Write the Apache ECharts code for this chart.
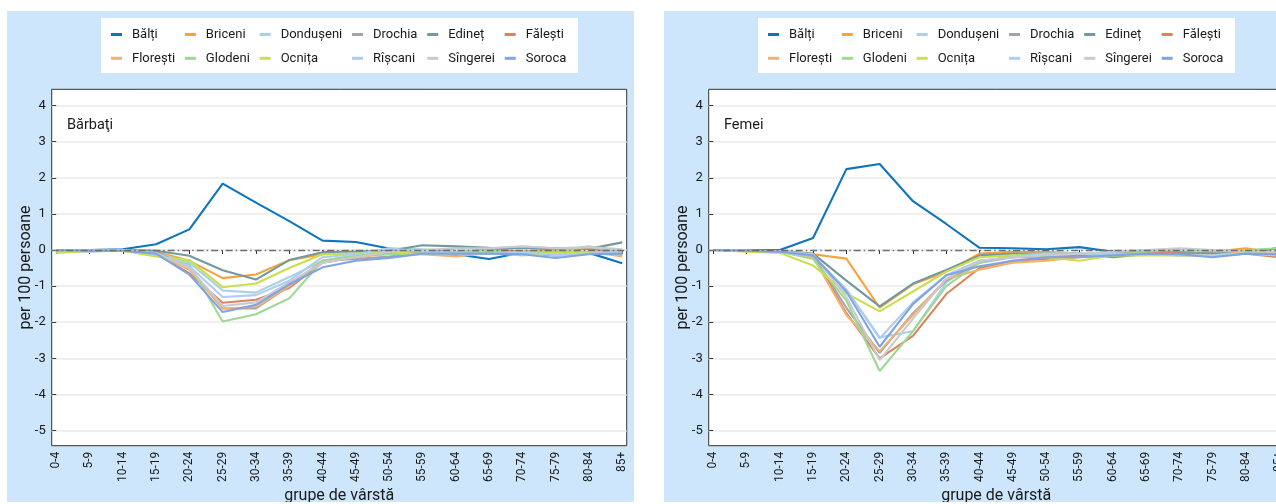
<!DOCTYPE html>
<html>
<head>
<meta charset="utf-8">
<script src="https://cdn.jsdelivr.net/npm/echarts@6/dist/echarts.min.js"></script>
<style>
  html, body { margin:0; padding:0; background:#fff; width:1276px; height:504px; overflow:hidden; position:relative; }
  .panel { position:absolute; top:11px; width:627px; height:491px; background:#cde6fb; }
</style>
</head>
<body>
<div id="p1" class="panel" style="left:7px"></div>
<div id="p2" class="panel" style="left:664px"></div>
<script>
const categories = ['0-4','5-9','10-14','15-19','20-24','25-29','30-34','35-39','40-44','45-49','50-54','55-59','60-64','65-69','70-74','75-79','80-84','85+'];
const yTicks = [-5,-4,-3,-2,-1,0,1,2,3,4];
const districts = ['Bălți','Briceni','Dondușeni','Drochia','Edineț','Fălești','Florești','Glodeni','Ocnița','Rîșcani','Sîngerei','Soroca'];
const colors = ['#0f75bc','#f9a23c','#a9d1e8','#a2a5a9','#72999e','#d9845e','#f2b26e','#9fd894','#cadf4e','#afcdee','#c7cad1','#7fa4e6'];

// Bărbaţi (men)
const menBalti     = [0, 0, 0.02, 0.16, 0.57, 1.84, 1.31, 0.80, 0.26, 0.22, 0.04, -0.08, -0.12, -0.25, -0.07, -0.15, -0.08, -0.37];
const menBriceni   = [0, -0.02, -0.02, -0.05, -0.30, -0.78, -0.68, -0.28, -0.12, -0.10, -0.05, -0.08, -0.15, -0.05, -0.05, -0.10, -0.05, -0.15];
const menDondușeni = [-0.02, -0.03, 0, -0.08, -0.35, -1.12, -1.18, -0.75, -0.30, -0.15, 0.05, 0.02, -0.05, 0, -0.10, -0.12, -0.05, -0.10];
const menDrochia   = [0, -0.02, 0, -0.05, -0.50, -1.62, -1.62, -1.00, -0.30, -0.25, -0.18, -0.10, 0.05, 0.05, 0.08, 0.05, 0.05, -0.05];
const menEdinet    = [0, 0, 0, -0.02, -0.16, -0.56, -0.82, -0.28, -0.06, -0.04, -0.02, 0.13, 0.10, 0.06, 0.05, 0.05, 0.03, 0.21];
const menFalesti   = [0, -0.02, -0.02, -0.10, -0.65, -1.46, -1.38, -1.05, -0.35, -0.20, -0.05, -0.10, -0.15, 0.05, -0.05, 0.03, 0.05, -0.12];
const menFloresti  = [0, -0.01, -0.03, -0.10, -0.55, -1.62, -1.58, -1.00, -0.30, -0.20, -0.10, -0.12, -0.18, -0.08, -0.05, -0.02, -0.05, -0.18];
const menGlodeni   = [-0.05, -0.04, -0.02, -0.15, -0.40, -1.98, -1.78, -1.34, -0.30, -0.15, -0.12, -0.10, -0.05, 0, -0.10, -0.05, 0.10, -0.10];
const menOcnita    = [-0.08, -0.03, -0.02, -0.18, -0.28, -1.03, -0.93, -0.50, -0.12, -0.10, -0.05, -0.12, -0.10, -0.08, -0.15, -0.08, -0.05, -0.10];
const menRiscani   = [0, -0.05, 0, -0.12, -0.45, -1.30, -1.25, -0.85, -0.20, -0.12, 0.05, -0.05, -0.10, -0.10, -0.05, -0.15, -0.10, -0.05];
const menSingerei  = [0, -0.02, 0, -0.08, -0.50, -1.55, -1.45, -0.90, -0.35, -0.20, -0.05, 0, 0.05, 0.05, 0.10, 0.05, 0.08, 0.02];
const menSoroca    = [0, -0.02, -0.02, -0.10, -0.68, -1.72, -1.52, -0.95, -0.48, -0.30, -0.22, -0.10, -0.10, -0.10, -0.12, -0.22, -0.12, -0.10];

// Femei (women)
const womBalti     = [0, 0, 0, 0.33, 2.24, 2.38, 1.35, 0.72, 0.06, 0.05, 0.02, 0.08, -0.05, -0.05, -0.08, -0.15, -0.10, 0.06];
const womBriceni   = [0, -0.02, -0.05, -0.12, -0.24, -1.60, -0.95, -0.60, -0.10, -0.05, -0.05, -0.10, -0.15, -0.10, -0.10, -0.05, 0.05, -0.10];
const womDondușeni = [0, -0.02, -0.05, -0.20, -1.10, -2.42, -2.25, -0.90, -0.30, -0.20, -0.15, -0.15, -0.10, -0.10, -0.10, -0.15, -0.10, -0.12];
const womDrochia   = [0, -0.02, -0.05, -0.15, -1.60, -2.85, -1.75, -0.85, -0.35, -0.20, -0.20, -0.12, -0.10, -0.05, -0.05, -0.10, -0.08, -0.10];
const womEdinet    = [0, 0, -0.02, -0.10, -0.85, -1.56, -0.93, -0.55, -0.15, -0.10, -0.10, -0.10, -0.20, -0.12, -0.10, -0.10, -0.08, -0.05];
const womFalesti   = [0, -0.02, -0.05, -0.15, -1.75, -3.00, -2.38, -1.22, -0.50, -0.30, -0.25, -0.15, -0.15, -0.05, -0.10, -0.15, -0.10, -0.20];
const womFloresti  = [0, -0.02, -0.05, -0.20, -1.80, -2.80, -1.80, -0.80, -0.55, -0.35, -0.30, -0.20, -0.15, -0.10, -0.15, -0.15, -0.05, -0.12];
const womGlodeni   = [0, -0.02, -0.05, -0.25, -1.40, -3.35, -2.25, -1.00, -0.35, -0.15, -0.10, -0.10, -0.15, -0.05, 0.02, -0.02, 0, 0.05];
const womOcnita    = [0, -0.05, -0.08, -0.43, -1.20, -1.70, -1.15, -0.60, -0.20, -0.15, -0.20, -0.30, -0.15, -0.15, -0.15, -0.15, -0.10, -0.05];
const womRiscani   = [0, -0.02, -0.05, -0.15, -1.10, -2.45, -1.45, -0.70, -0.30, -0.20, -0.10, -0.10, -0.10, -0.12, -0.15, -0.15, -0.10, -0.15];
const womSingerei  = [0, -0.02, -0.03, -0.12, -1.30, -3.05, -1.90, -0.80, -0.30, -0.20, -0.15, -0.10, -0.05, 0, 0.05, 0, -0.05, -0.05];
const womSoroca    = [0, -0.02, -0.05, -0.15, -1.15, -2.68, -1.50, -0.70, -0.45, -0.30, -0.20, -0.20, -0.15, -0.10, -0.12, -0.20, -0.10, -0.12];

const menSeries = [menBalti, menBriceni, menDondușeni, menDrochia, menEdinet, menFalesti, menFloresti, menGlodeni, menOcnita, menRiscani, menSingerei, menSoroca];
const womSeries = [womBalti, womBriceni, womDondușeni, womDrochia, womEdinet, womFalesti, womFloresti, womGlodeni, womOcnita, womRiscani, womSingerei, womSoroca];

const FONT = "Roboto, 'Liberation Sans', sans-serif";
const TXT = '#1a1a1a';

// legend order: column-wise (2 rows x 6 columns)
const legendOrder = [];
for (let c = 0; c < 6; c++) { legendOrder.push(districts[c]); legendOrder.push(districts[c + 6]); }

function buildOption(title, seriesValues) {
  const ticksIdx = categories.map((_, i) => i);
  const series = districts.map((name, k) => ({
    name: name,
    type: 'line',
    data: seriesValues[k].map((v, i) => [i, v]),
    symbol: 'none',
    lineStyle: { width: 2.1, color: colors[k] },
    itemStyle: { color: colors[k] },
    z: 2
  }));
  series.push({
    name: '_zero', type: 'line', data: [], symbol: 'none', silent: true, z: 3,
    markLine: {
      silent: true, symbol: 'none', label: { show: false },
      lineStyle: { color: '#6e6e6e', width: 1.3, type: [7, 3, 1.5, 3] },
      data: [{ yAxis: 0 }]
    }
  });
  return {
    animation: false,
    textStyle: { fontFamily: FONT },
    graphic: [{
      type: 'rect', left: 94, top: 7, shape: { width: 477, height: 55 },
      style: { fill: '#ffffff' }, z: 0
    }],
    title: {
      text: title, left: 60, top: 107, padding: 0,
      textStyle: { fontFamily: FONT, fontSize: 14.5, fontWeight: 'normal', color: TXT }
    },
    legend: {
      orient: 'vertical', left: 104, top: 16.5, height: 40, padding: 0,
      itemGap: 9.8, itemWidth: 11, itemHeight: 3, icon: 'rect',
      data: legendOrder,
      selectedMode: false,
      textStyle: { fontFamily: FONT, fontSize: 13, color: TXT, lineHeight: 14, padding: [0, 0, 0, 5] }
    },
    grid: {
      left: 44.7, top: 78.3, width: 575, height: 356.4,
      outerBoundsMode: 'none', containLabel: false,
      show: true, backgroundColor: '#ffffff', borderColor: '#333333', borderWidth: 1
    },
    xAxis: {
      type: 'value', min: -0.135, max: 17.135,
      name: 'grupe de vârstă', nameLocation: 'middle', nameGap: 42, nameMoveOverlap: false,
      nameTextStyle: { fontFamily: FONT, fontSize: 16, color: TXT },
      axisLine: { show: false },
      axisTick: { show: true, length: 4, customValues: ticksIdx, lineStyle: { color: '#333333' } },
      axisLabel: {
        customValues: ticksIdx, rotate: 90, fontSize: 12, color: TXT, margin: 6,
        formatter: v => categories[Math.round(v)]
      },
      splitLine: { show: false }
    },
    yAxis: {
      type: 'value', min: -5.42, max: 4.45,
      name: 'per 100 persoane', nameLocation: 'middle', nameGap: 18, nameMoveOverlap: false,
      nameTextStyle: { fontFamily: FONT, fontSize: 16, color: TXT },
      axisLine: { show: false },
      axisTick: { show: true, length: 4, customValues: yTicks, lineStyle: { color: '#333333' } },
      axisLabel: { customValues: yTicks, fontSize: 13, color: TXT, margin: 6 },
      splitLine: { show: true, lineStyle: { color: '#ebebeb', width: 1.5 } }
    },
    series: series
  };
}

const c1 = echarts.init(document.getElementById('p1'), null, { renderer: 'canvas' });
c1.setOption(buildOption('Bărbaţi', menSeries));
const c2 = echarts.init(document.getElementById('p2'), null, { renderer: 'canvas' });
c2.setOption(buildOption('Femei', womSeries));
</script>
</body>
</html>
